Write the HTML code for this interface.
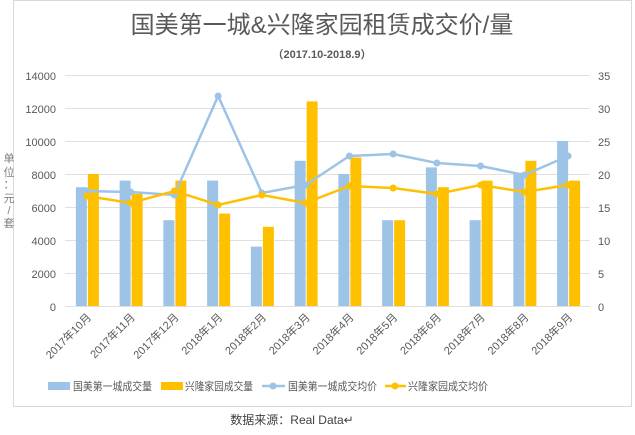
<!DOCTYPE html>
<html><head><meta charset="utf-8"><style>
body{margin:0;background:#fff}
svg{display:block}
text{font-family:"Liberation Sans","Noto Sans CJK SC",sans-serif}
</style></head><body>
<svg width="635" height="435" viewBox="0 0 635 435" xmlns="http://www.w3.org/2000/svg">
<rect x="13.5" y="0.5" width="618" height="406" fill="#fff" stroke="#d9d9d9"/>
<text x="322" y="33" font-size="24" fill="#595959" text-anchor="middle">国美第一城&amp;兴隆家园租赁成交价/量</text>
<text x="322" y="58" font-size="11" font-weight="bold" fill="#595959" text-anchor="middle">（2017.10-2018.9）</text>
<g stroke="#e0e0e0" stroke-width="1">
<line x1="65" x2="590" y1="75.5" y2="75.5"/><line x1="65" x2="590" y1="108.5" y2="108.5"/>
<line x1="65" x2="590" y1="141.5" y2="141.5"/><line x1="65" x2="590" y1="174.5" y2="174.5"/>
<line x1="65" x2="590" y1="207.5" y2="207.5"/><line x1="65" x2="590" y1="240.5" y2="240.5"/>
<line x1="65" x2="590" y1="273.5" y2="273.5"/><line x1="65" x2="590" y1="306.5" y2="306.5"/>
</g>
<g font-size="11" fill="#595959" text-anchor="end">
<text x="56" y="80">14000</text><text x="56" y="113">12000</text><text x="56" y="146">10000</text>
<text x="56" y="179">8000</text><text x="56" y="212">6000</text><text x="56" y="245">4000</text>
<text x="56" y="278">2000</text><text x="56" y="311">0</text>
</g>
<g font-size="11" fill="#595959" text-anchor="start">
<text x="598" y="80">35</text><text x="598" y="113">30</text><text x="598" y="146">25</text>
<text x="598" y="179">20</text><text x="598" y="212">15</text><text x="598" y="245">10</text>
<text x="598" y="278">5</text><text x="598" y="311">0</text>
</g>
<g font-size="11" fill="#7f7f7f" text-anchor="middle">
<text x="9" y="162">单</text><text x="9" y="176">位</text><text x="9" y="188">：</text>
<text x="9" y="202">元</text><text x="9" y="214">/</text><text x="9" y="227">套</text>
</g>
<g id="bars"></g>
<g id="xl" font-size="11" fill="#595959"></g>
<g id="lines"></g>
<g font-size="11" fill="#595959">
<rect x="48" y="382" width="22" height="8" fill="#9dc3e6"/><text x="73" y="390" textLength="79" lengthAdjust="spacingAndGlyphs">国美第一城成交量</text>
<rect x="161" y="382" width="22" height="8" fill="#ffc000"/><text x="185" y="390" textLength="68" lengthAdjust="spacingAndGlyphs">兴隆家园成交量</text>
<line x1="262" x2="285" y1="386" y2="386" stroke="#9dc3e6" stroke-width="2.5"/><circle cx="273" cy="386" r="3.5" fill="#9dc3e6"/><text x="288" y="390" textLength="89" lengthAdjust="spacingAndGlyphs">国美第一城成交均价</text>
<line x1="385" x2="406" y1="386" y2="386" stroke="#ffc000" stroke-width="2.5"/><circle cx="395" cy="386" r="3.5" fill="#ffc000"/><text x="408" y="390" textLength="80" lengthAdjust="spacingAndGlyphs">兴隆家园成交均价</text>
</g>
<text x="292" y="424" font-size="12" fill="#404040" text-anchor="middle">数据来源：Real Data↵</text>
</svg>
<script>
var ns="http://www.w3.org/2000/svg";
var b=[7200,7600,5200,7600,3600,8800,8000,5200,8400,5200,8000,10000];
var o=[8000,6800,7600,5600,4800,12400,9000,5200,7200,7600,8800,7600];
var bl=[191,192,195,96,193,185,156,154,163,166,175,156];
var ol=[196,203,191,205,195,203,186,188,194,185,192,185];
var lab=["2017年10月","2017年11月","2017年12月","2018年1月","2018年2月","2018年3月","2018年4月","2018年5月","2018年6月","2018年7月","2018年8月","2018年9月"];
function el(t,a,p){var e=document.createElementNS(ns,t);for(var k in a)e.setAttribute(k,a[k]);document.getElementById(p).appendChild(e);return e;}
var bp="",op="";
for(var i=0;i<12;i++){
 var c=65+43.75*(i+0.5);
 var hb=b[i]*0.0165,ho=o[i]*0.0165;
 el("rect",{x:c-11,y:306-hb,width:11,height:hb,fill:"#9dc3e6"},"bars");
 el("rect",{x:c+1,y:306-ho,width:11,height:ho,fill:"#ffc000"},"bars");
 var t=el("text",{x:c+5,y:318,"text-anchor":"end",transform:"rotate(-45 "+(c+5)+" 318)"},"xl");t.textContent=lab[i];
 bp+=(i?"L":"M")+c+" "+bl[i];op+=(i?"L":"M")+c+" "+ol[i];
}
el("path",{d:bp,fill:"none",stroke:"#9dc3e6","stroke-width":2.5},"lines");
el("path",{d:op,fill:"none",stroke:"#ffc000","stroke-width":2.5},"lines");
for(var i=0;i<12;i++){var c=65+43.75*(i+0.5);
 el("circle",{cx:c,cy:bl[i],r:3.5,fill:"#9dc3e6"},"lines");
 el("circle",{cx:c,cy:ol[i],r:3.5,fill:"#ffc000"},"lines");}
</script>
</body></html>
